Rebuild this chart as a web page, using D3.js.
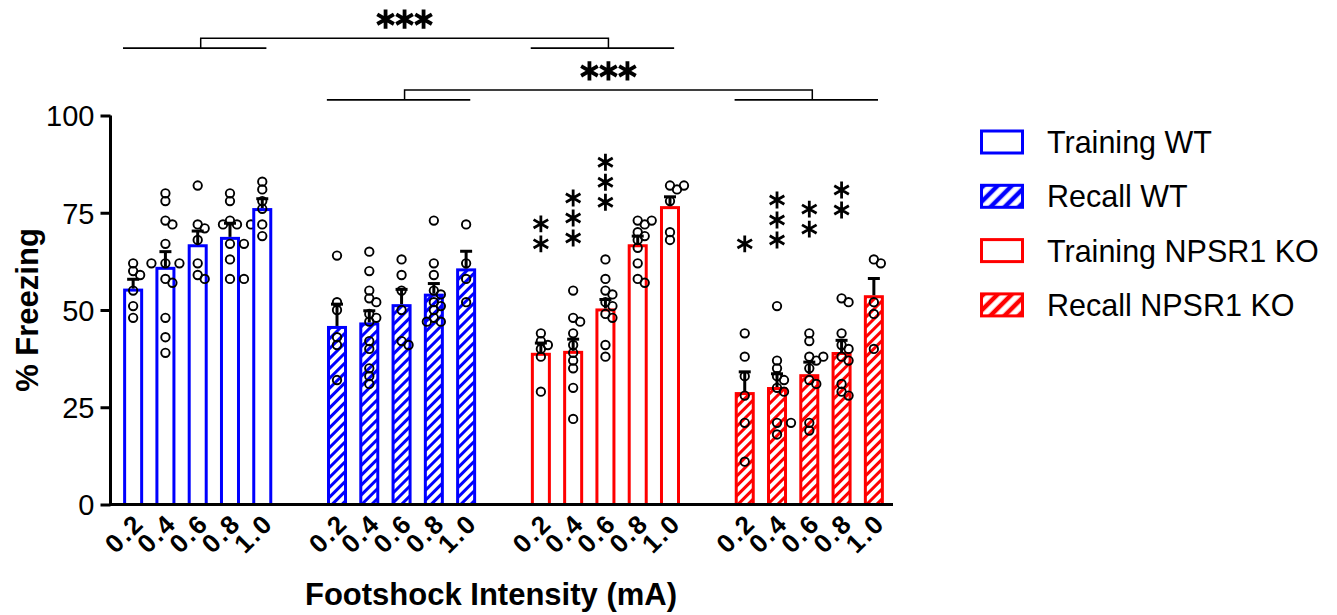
<!DOCTYPE html>
<html>
<head>
<meta charset="utf-8">
<script src="https://cdn.jsdelivr.net/npm/d3@7"></script>
<style>
  body { margin: 0; background: #fff; }
  text { font-family: "Liberation Sans", Arial, Helvetica, sans-serif; fill: #000; }
</style>
</head>
<body>
<script>
// ---- data ----
const doses = ["0.2", "0.4", "0.6", "0.8", "1.0"];
const groups = ["Training WT", "Recall WT", "Training NPSR1 KO", "Recall NPSR1 KO"];
const groupColors = ["#0000ff", "#0000ff", "#ff0000", "#ff0000"];
const groupHatched = [false, true, false, true];
const yTicks = [0, 25, 50, 75, 100];

const meanTrainingWT = [55.5, 61.1, 66.9, 68.8, 76.2];
const meanRecallWT   = [45.9, 46.8, 51.5, 54.2, 60.7];
const meanTrainingKO = [39.0, 39.5, 50.4, 66.9, 76.7];
const meanRecallKO   = [28.9, 30.2, 33.5, 39.2, 53.8];

const semTrainingWT = [2.4, 3.9, 3.4, 3.5, 2.4];
const semRecallWT   = [5.6, 3.0, 3.8, 2.6, 4.4];
const semTrainingKO = [2.5, 3.0, 2.3, 2.1, 2.4];
const semRecallKO   = [5.2, 3.4, 3.1, 3.0, 4.3];

const pointsTrainingWT = [
  [62, 60, 59, 55, 51, 48],
  [80, 78, 73, 72, 67, 62, 62, 62, 58, 57, 48, 43, 39],
  [82, 72, 71, 68, 62, 59, 58],
  [80, 78, 73, 72, 72, 72, 67, 67, 63, 58, 58],
  [83, 81, 78, 76, 72, 69]
];
const pointsRecallWT = [
  [64, 52, 50, 43, 41, 32],
  [65, 60, 55, 53, 52, 49, 48, 47, 42, 40, 35, 33, 31],
  [63, 59, 55, 50, 42, 41],
  [73, 62, 59, 55, 54, 52, 51, 50, 48, 47, 47],
  [72, 62, 58, 52]
];
const pointsTrainingKO = [
  [44, 42, 41, 40, 38, 29],
  [55, 48, 47, 44, 41, 39, 37, 35, 30, 22],
  [63, 58, 55, 54, 52, 51, 49, 48, 41, 38],
  [73, 73, 72, 70, 69, 68, 66, 62, 58, 57],
  [82, 82, 81, 78, 70, 68]
];
const pointsRecallKO = [
  [44, 38, 33, 28, 21, 11],
  [51, 37, 35, 33, 32, 30, 29, 21, 21, 18],
  [44, 42, 38, 38, 37, 35, 32, 31, 21, 19],
  [53, 52, 44, 41, 40, 38, 37, 31, 29, 28],
  [63, 62, 52, 49, 40]
];

// number of stars above each KO bar, and the value where the lowest star sits
const starsTrainingKO = [2, 3, 3, 0, 0];
const starsRecallKO   = [1, 3, 2, 2, 0];
const starBaseTrainingKO = [67, 68.5, 77.7, 0, 0];
const starBaseRecallKO   = [67, 68, 70.8, 75.7, 0];

// group comparisons drawn as brackets on top
const comparisons = [
  { from: 0, to: 2, label: "***" },
  { from: 1, to: 3, label: "***" }
];

const means = [meanTrainingWT, meanRecallWT, meanTrainingKO, meanRecallKO];
const sems = [semTrainingWT, semRecallWT, semTrainingKO, semRecallKO];
const points = [pointsTrainingWT, pointsRecallWT, pointsTrainingKO, pointsRecallKO];
const stars = [null, null, starsTrainingKO, starsRecallKO];
const starBase = [null, null, starBaseTrainingKO, starBaseRecallKO];

// ---- layout ----
const W = 1337, H = 615;
const svg = d3.select("body").append("svg")
  .attr("width", W)
  .attr("height", H)
  .style("background", "#fff");

const defs = svg.append("defs");
function hatch(id, color, size, sw) {
  const p = defs.append("pattern")
    .attr("id", id)
    .attr("patternUnits", "userSpaceOnUse")
    .attr("width", size)
    .attr("height", size)
    .attr("patternTransform", "rotate(45)");
  p.append("rect").attr("width", size).attr("height", size).attr("fill", "#fff");
  p.append("line")
    .attr("x1", size / 2).attr("x2", size / 2)
    .attr("y1", 0).attr("y2", size)
    .attr("stroke", color)
    .attr("stroke-width", sw);
}
hatch("hatch-blue", "#0000ff", 7, 3);
hatch("hatch-red", "#ff0000", 7, 3);
hatch("hatch-blue-big", "#0000ff", 10, 4.5);
hatch("hatch-red-big", "#ff0000", 10, 4.5);

function fillFor(g, big) {
  if (!groupHatched[g]) return "#fff";
  const c = groupColors[g] === "#0000ff" ? "blue" : "red";
  return "url(#hatch-" + c + (big ? "-big" : "") + ")";
}

const y = d3.scaleLinear().domain([0, 100]).range([504.5, 115.5]);

const xGroup = d3.scaleBand()
  .domain(d3.range(groups.length))
  .range([117, 890])
  .paddingInner(0.2083)
  .paddingOuter(0);

const xDose = d3.scaleBand()
  .domain(d3.range(doses.length))
  .range([0, xGroup.bandwidth()])
  .paddingInner(0.38)
  .paddingOuter(0.19);

const axisX = 110.5;

// y axis
const yAxis = svg.append("g")
  .attr("transform", `translate(${axisX},0)`)
  .call(d3.axisLeft(y).tickValues(yTicks).tickSize(10).tickSizeOuter(0).tickPadding(6));
yAxis.select(".domain").attr("stroke-width", 3).attr("d", `M0,${y(0) + 1.5}V${y(100)}`);
yAxis.selectAll(".tick line").attr("stroke-width", 3);
yAxis.selectAll(".tick text")
  .style("font-size", "29px")
  .style("font-family", "'Liberation Sans', Arial, sans-serif")
  .attr("dy", "0.36em");

// bars, points, error bars
const plot = svg.append("g");
groups.forEach((gName, g) => {
  const gx = xGroup(g);
  doses.forEach((d, i) => {
    const x0 = gx + xDose(i);
    const bw = xDose.bandwidth();
    const xc = x0 + bw / 2;
    const m = means[g][i];
    const s = sems[g][i];

    plot.append("rect")
      .attr("x", x0 + 1.5)
      .attr("y", y(m) + 1.5)
      .attr("width", bw - 3)
      .attr("height", y(0) - y(m) - 1.5)
      .attr("fill", fillFor(g, false))
      .attr("stroke", groupColors[g])
      .attr("stroke-width", 3);

    // spread overlapping points sideways
    const placed = [];
    points[g][i].slice().sort((a, b) => b - a).forEach(v => {
      const py = y(v);
      const offs = [0, 7, -7, 14, -14, 21, -21];
      let px = xc;
      for (const o of offs) {
        if (placed.every(q => Math.hypot(q.x - (xc + o), q.y - py) >= 7.5)) { px = xc + o; break; }
      }
      placed.push({ x: px, y: py });
    });
    plot.selectAll(null)
      .data(placed)
      .enter()
      .append("circle")
        .attr("cx", p => p.x)
        .attr("cy", p => p.y)
        .attr("r", 4.2)
        .attr("fill", "none")
        .attr("stroke", "#000")
        .attr("stroke-width", 1.9);

    // error bar (upper only)
    plot.append("line")
      .attr("x1", xc).attr("x2", xc)
      .attr("y1", y(m)).attr("y2", y(m + s))
      .attr("stroke", "#000").attr("stroke-width", 3);
    plot.append("line")
      .attr("x1", xc - 6).attr("x2", xc + 6)
      .attr("y1", y(m + s)).attr("y2", y(m + s))
      .attr("stroke", "#000").attr("stroke-width", 3);

    // significance stars
    if (stars[g] && stars[g][i] > 0) {
      for (let k = 0; k < stars[g][i]; k++) {
        plot.append("path")
          .attr("d", d3.symbol(d3.symbolAsterisk, 200)())
          .attr("transform", `translate(${xc},${y(starBase[g][i]) - k * 20})`)
          .attr("fill", "none")
          .attr("stroke", "#000")
          .attr("stroke-width", 2.8);
      }
    }

    // dose label
    svg.append("text")
      .attr("transform", `translate(${xc + 6},${y(0) + 14}) rotate(-45)`)
      .attr("text-anchor", "end")
      .attr("dy", "0.35em")
      .style("font-size", "26px")
      .style("font-weight", "bold")
      .style("letter-spacing", "2px")
      .text(d);
  });
});

// x axis line
svg.append("line")
  .attr("x1", axisX - 1.5).attr("x2", 893)
  .attr("y1", y(0)).attr("y2", y(0))
  .attr("stroke", "#000").attr("stroke-width", 3);

// comparison brackets
const bracketLevels = [117.3, 104];
comparisons.forEach((c, k) => {
  const base = y(bracketLevels[k]);
  const top = base - 10;
  const ends = [c.from, c.to].map(g => {
    const a = xGroup(g) + 6, b = xGroup(g) + xGroup.bandwidth() - 12;
    svg.append("line")
      .attr("x1", a).attr("x2", b).attr("y1", base).attr("y2", base)
      .attr("stroke", "#000").attr("stroke-width", 1.8);
    return (a + b) / 2 + 6;
  });
  svg.append("path")
    .attr("d", `M${ends[0]},${base}V${top}H${ends[1]}V${base}`)
    .attr("fill", "none")
    .attr("stroke", "#000")
    .attr("stroke-width", 1.5);
  const mid = (ends[0] + ends[1]) / 2;
  c.label.split("").forEach((s, j) => {
    svg.append("path")
      .attr("d", d3.symbol(d3.symbolAsterisk, 260)())
      .attr("transform", `translate(${mid + (j - 1) * 19},${top - 19})`)
      .attr("fill", "none")
      .attr("stroke", "#000")
      .attr("stroke-width", 3.8);
  });
});

// axis titles
svg.append("text")
  .attr("transform", `translate(38,${(y(0) + y(100)) / 2}) rotate(-90)`)
  .attr("text-anchor", "middle")
  .style("font-size", "31px")
  .style("font-weight", "bold")
  .text("% Freezing");

svg.append("text")
  .attr("x", 491)
  .attr("y", 605)
  .attr("text-anchor", "middle")
  .style("font-size", "31px")
  .style("font-weight", "bold")
  .text("Footshock Intensity (mA)");

// legend
const legend = svg.append("g").attr("transform", "translate(980,142)");
groups.forEach((name, g) => {
  const row = legend.append("g").attr("transform", `translate(0,${g * 54.3})`);
  row.append("rect")
    .attr("x", 1.5).attr("y", -11)
    .attr("width", 41).attr("height", 22)
    .attr("fill", fillFor(g, true))
    .attr("stroke", groupColors[g])
    .attr("stroke-width", 3);
  row.append("text")
    .attr("x", 67)
    .attr("y", 11)
    .style("font-size", "30.5px")
    .text(name);
});
</script>
</body>
</html>
